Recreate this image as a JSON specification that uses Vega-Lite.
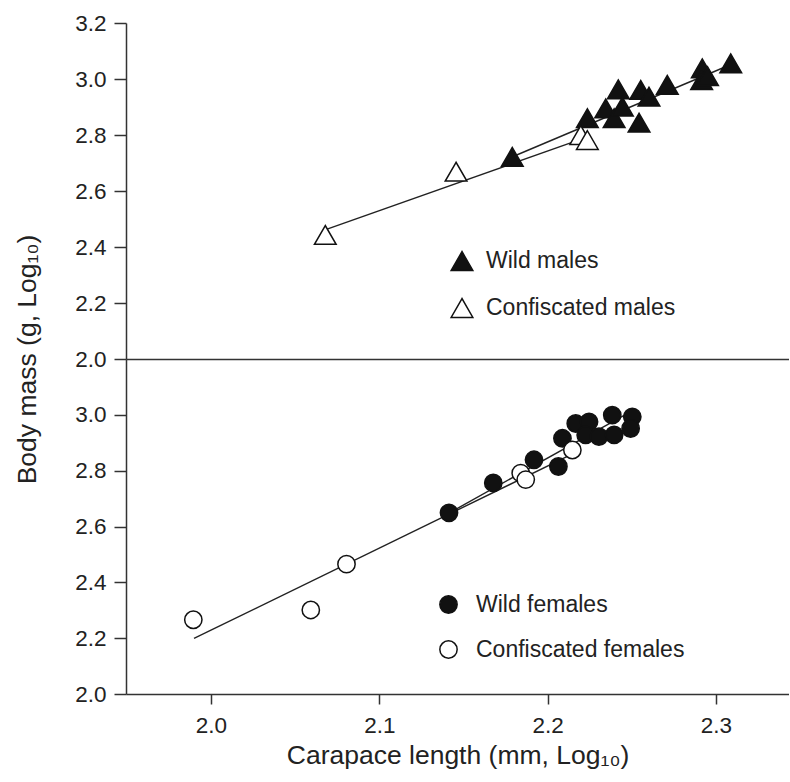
{
  "$schema": "https://vega.github.io/schema/vega-lite/v6.json",
  "background": "white",
  "padding": {"left": 14, "top": 12, "right": 0, "bottom": 4},
  "config": {
    "font": "Liberation Sans",
    "view": {"stroke": null},
    "axis": {
      "labelFont": "Liberation Sans", "titleFont": "Liberation Sans",
      "labelFontSize": 22.5, "titleFontSize": 26.5,
      "labelColor": "#222", "titleColor": "#222", "titleFontWeight": "normal",
      "domainColor": "#333", "tickColor": "#333", "domainWidth": 1.5, "tickWidth": 1.5,
      "grid": false, "tickSize": 12
    },
    "legend": {"labelFont": "Liberation Sans", "labelFontSize": 23, "labelColor": "#222", "padding": 0, "labelLimit": 0}
  },
  "spacing": 0,
  "bounds": "flush",
  "resolve": {"scale": {"fill": "independent"}, "legend": {"fill": "independent"}},
  "datasets": {
    "pointsA": [
      {"group": "Wild males", "x": 2.1790, "y": 2.722},
      {"group": "Wild males", "x": 2.2236, "y": 2.860},
      {"group": "Wild males", "x": 2.2345, "y": 2.895},
      {"group": "Wild males", "x": 2.2420, "y": 2.963},
      {"group": "Wild males", "x": 2.2395, "y": 2.860},
      {"group": "Wild males", "x": 2.2444, "y": 2.901},
      {"group": "Wild males", "x": 2.2553, "y": 2.961},
      {"group": "Wild males", "x": 2.2602, "y": 2.937},
      {"group": "Wild males", "x": 2.2543, "y": 2.844},
      {"group": "Wild males", "x": 2.2711, "y": 2.979},
      {"group": "Wild males", "x": 2.2919, "y": 3.038},
      {"group": "Wild males", "x": 2.2915, "y": 2.996},
      {"group": "Wild males", "x": 2.2950, "y": 3.010},
      {"group": "Wild males", "x": 2.3088, "y": 3.056},
      {"group": "Confiscated males", "x": 2.0679, "y": 2.443},
      {"group": "Confiscated males", "x": 2.1456, "y": 2.669},
      {"group": "Confiscated males", "x": 2.2197, "y": 2.800},
      {"group": "Confiscated males", "x": 2.2236, "y": 2.782}
    ],
    "linesA": [
      {"group": "Wild males", "x": 2.1788, "y": 2.7214},
      {"group": "Wild males", "x": 2.3096, "y": 3.0536},
      {"group": "Confiscated males", "x": 2.0677, "y": 2.461},
      {"group": "Confiscated males", "x": 2.2204, "y": 2.786}
    ],
    "pointsB": [
      {"group": "Wild females", "x": 2.1414, "y": 2.649},
      {"group": "Wild females", "x": 2.1677, "y": 2.756},
      {"group": "Wild females", "x": 2.1919, "y": 2.839},
      {"group": "Wild females", "x": 2.2064, "y": 2.815},
      {"group": "Wild females", "x": 2.2088, "y": 2.916},
      {"group": "Wild females", "x": 2.2167, "y": 2.969},
      {"group": "Wild females", "x": 2.2246, "y": 2.975},
      {"group": "Wild females", "x": 2.2226, "y": 2.928},
      {"group": "Wild females", "x": 2.2305, "y": 2.922},
      {"group": "Wild females", "x": 2.2395, "y": 2.928},
      {"group": "Wild females", "x": 2.2384, "y": 2.999},
      {"group": "Wild females", "x": 2.2503, "y": 2.993},
      {"group": "Wild females", "x": 2.2493, "y": 2.951},
      {"group": "Confiscated females", "x": 1.9895, "y": 2.266},
      {"group": "Confiscated females", "x": 2.0593, "y": 2.301},
      {"group": "Confiscated females", "x": 2.0805, "y": 2.465},
      {"group": "Confiscated females", "x": 2.1840, "y": 2.791},
      {"group": "Confiscated females", "x": 2.1870, "y": 2.768},
      {"group": "Confiscated females", "x": 2.2147, "y": 2.874}
    ],
    "linesB": [
      {"group": "Wild females", "x": 2.1414, "y": 2.648},
      {"group": "Wild females", "x": 2.2513, "y": 3.018},
      {"group": "Confiscated females", "x": 1.9899, "y": 2.199},
      {"group": "Confiscated females", "x": 2.2151, "y": 2.861}
    ]
  },
  "vconcat": [
    {
      "width": 663,
      "height": 336,
      "encoding": {
        "x": {"field": "x", "type": "quantitative",
              "scale": {"domain": [1.9495, 2.3434], "nice": false, "zero": false},
              "axis": {"orient": "bottom", "ticks": false, "labels": false, "title": null}},
        "y": {"field": "y", "type": "quantitative",
              "scale": {"domain": [2.0, 3.2], "nice": false, "zero": false},
              "axis": {"values": [2.0, 2.2, 2.4, 2.6, 2.8, 3.0, 3.2], "format": ".1f", "labelPadding": 8,
                       "title": "Body mass (g, Log₁₀)", "titleY": 336, "titleAlign": "center",
                       "titleBaseline": "bottom", "titlePadding": 33}}
      },
      "layer": [
        {"data": {"values": [{}]}, "mark": {"type": "rule", "color": "#333", "strokeWidth": 1.5},
         "encoding": {"x": null, "y": {"datum": 3.2}}},
        {"data": {"name": "linesA"}, "mark": {"type": "line", "color": "#222", "strokeWidth": 1.4},
         "encoding": {"detail": {"field": "group"}}},
        {"data": {"name": "pointsA"},
         "mark": {"type": "point", "shape": "triangle-up", "size": 470, "stroke": "#111", "strokeWidth": 1.5, "opacity": 1, "fillOpacity": 1},
         "encoding": {
           "fill": {"field": "group", "type": "nominal",
                    "scale": {"domain": ["Wild males", "Confiscated males"], "range": ["#111", "#ffffff"]},
                    "legend": {"orient": "none", "legendX": 324, "legendY": 226, "title": null,
                               "symbolType": "triangle-up", "symbolSize": 470, "symbolStrokeColor": "#111",
                               "symbolStrokeWidth": 1.5, "labelOffset": 12, "rowPadding": 21}}
         }},
        {"data": {"values": [{}]}, "mark": {"type": "text", "text": "(a)", "align": "left", "baseline": "middle", "fontSize": 22, "color": "#222"},
         "encoding": {"x": {"datum": 1.9602}, "y": {"datum": 3.104}}}
      ]
    },
    {
      "width": 663,
      "height": 335,
      "encoding": {
        "x": {"field": "x", "type": "quantitative",
              "scale": {"domain": [1.9495, 2.3434], "nice": false, "zero": false},
              "axis": {"values": [2.0, 2.1, 2.2, 2.3], "format": ".1f", "tickSize": 10, "labelPadding": 10,
                       "title": "Carapace length (mm, Log₁₀)", "titlePadding": 6}},
        "y": {"field": "y", "type": "quantitative",
              "scale": {"domain": [2.0, 3.2], "nice": false, "zero": false},
              "axis": {"values": [2.0, 2.2, 2.4, 2.6, 2.8, 3.0], "format": ".1f", "labelPadding": 8, "title": null}}
      },
      "layer": [
        {"data": {"name": "linesB"}, "mark": {"type": "line", "color": "#222", "strokeWidth": 1.4},
         "encoding": {"detail": {"field": "group"}}},
        {"data": {"name": "pointsB"},
         "mark": {"type": "point", "shape": "circle", "size": 300, "stroke": "#111", "strokeWidth": 1.5, "opacity": 1, "fillOpacity": 1},
         "encoding": {
           "fill": {"field": "group", "type": "nominal",
                    "scale": {"domain": ["Wild females", "Confiscated females"], "range": ["#111", "#ffffff"]},
                    "legend": {"orient": "none", "legendX": 311, "legendY": 234, "title": null,
                               "symbolType": "circle", "symbolSize": 300, "symbolStrokeColor": "#111",
                               "symbolStrokeWidth": 1.5, "labelOffset": 16, "rowPadding": 20}}
         }},
        {"data": {"values": [{}]}, "mark": {"type": "text", "text": "(b)", "align": "left", "baseline": "middle", "fontSize": 22, "color": "#222"},
         "encoding": {"x": {"datum": 1.9602}, "y": {"datum": 3.082}}}
      ]
    }
  ]
}
